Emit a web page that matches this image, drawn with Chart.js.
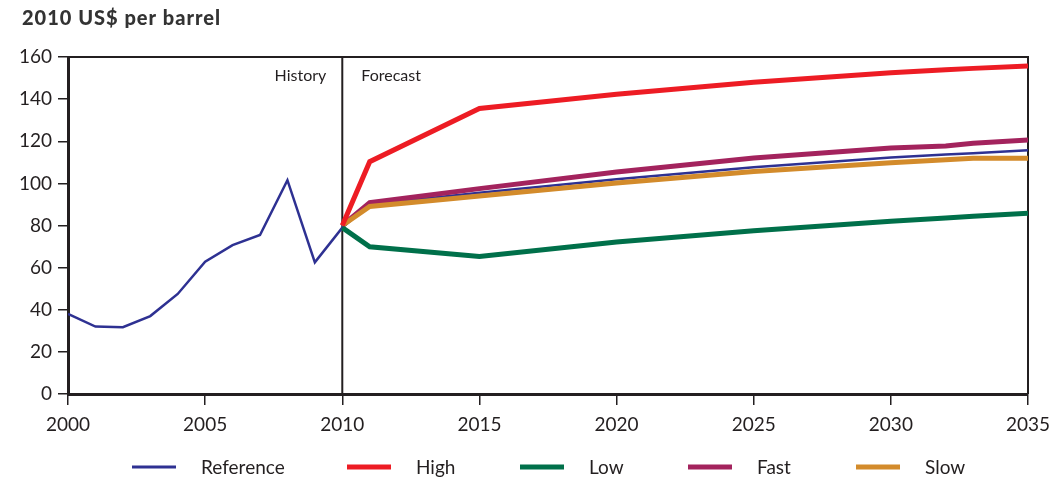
<!DOCTYPE html>
<html>
<head>
<meta charset="utf-8">
<script src="https://cdn.jsdelivr.net/npm/chart.js@4"></script>
<style>
  html, body { margin: 0; padding: 0; background: #fff; }
  #wrap { width: 1056px; height: 477px; position: relative; }
</style>
</head>
<body>
<div id="wrap"><canvas id="oilPrice"></canvas></div>
<script>
// series data (2010 US$ per barrel)
var refYears = [2000, 2001, 2002, 2003, 2004, 2005, 2006, 2007, 2008, 2009, 2010, 2011, 2015, 2020, 2025, 2030, 2032, 2033, 2035];
var refValues = [38, 32, 31.7, 37, 47.5, 62.8, 70.7, 75.5, 101.5, 62.5, 79, 90, 95.6, 102, 107.6, 112.3, 113.7, 114.3, 115.7];

var forecastYears = [2010, 2011, 2015, 2020, 2025, 2030, 2032, 2033, 2035];
var highValues = [80, 110.3, 135.6, 142.3, 148, 152.5, 153.9, 154.6, 155.7];
var lowValues = [79, 69.9, 65.3, 72.2, 77.5, 82, 83.6, 84.4, 85.8];
var fastValues = [80, 90.8, 97.5, 105.4, 112, 116.8, 117.8, 119, 120.6];
var slowValues = [80, 89, 94, 100.2, 105.6, 109.8, 111.2, 111.9, 111.9];

var seriesNames = ["Reference", "High", "Low", "Fast", "Slow"];
var seriesColors = ["#2e3192", "#ed1c24", "#00704a", "#a3235d", "#d38b2b"];

var xTickStart = 2000, xTickEnd = 2035, xTickStep = 5;
var yTickStart = 0, yTickEnd = 160, yTickStep = 20;

var chartTitle = "2010 US$ per barrel";
var historyLabel = "History";
var forecastLabel = "Forecast";
var splitYear = 2010;

function toPoints(xs, ys) {
  var pts = [];
  for (var i = 0; i < xs.length; i++) pts.push({ x: xs[i], y: ys[i] });
  return pts;
}

var FONT = "Lato, 'DejaVu Sans', sans-serif";
var TEXT = "#231f20";

// title, 2010 split line, frame, legend
var overlay = {
  id: "overlay",
  beforeDatasetsDraw: function (chart) {
    var ctx = chart.ctx, a = chart.chartArea;
    var xs = chart.scales.x.getPixelForValue(splitYear);
    ctx.save();
    ctx.strokeStyle = TEXT;
    ctx.lineWidth = 2;
    ctx.beginPath();
    ctx.moveTo(a.left, a.top);
    ctx.lineTo(a.right, a.top);
    ctx.lineTo(a.right, a.bottom);
    ctx.stroke();
    ctx.beginPath();
    ctx.moveTo(xs, a.top);
    ctx.lineTo(xs, a.bottom);
    ctx.stroke();
    ctx.fillStyle = TEXT;
    ctx.font = "16px " + FONT;
    ctx.textBaseline = "middle";
    ctx.textAlign = "right";
    ctx.fillText(historyLabel, xs - 16, a.top + 19);
    ctx.textAlign = "left";
    ctx.fillText(forecastLabel, xs + 19, a.top + 19);
    ctx.restore();
  },
  afterDraw: function (chart) {
    var ctx = chart.ctx;
    ctx.save();
    ctx.fillStyle = "#333";
    ctx.font = "900 20px " + FONT;
    ctx.letterSpacing = "1px";
    ctx.textBaseline = "middle";
    ctx.textAlign = "left";
    ctx.fillText(chartTitle, 22, 19);
    ctx.letterSpacing = "0px";

    var legendX = [132, 347, 520, 688, 856];
    var legendY = 467;
    ctx.font = "19px " + FONT;
    for (var i = 0; i < seriesNames.length; i++) {
      ctx.strokeStyle = seriesColors[i];
      ctx.lineWidth = i == 0 ? 3 : 5;
      ctx.beginPath();
      ctx.moveTo(legendX[i], legendY);
      ctx.lineTo(legendX[i] + 44, legendY);
      ctx.stroke();
      ctx.fillStyle = TEXT;
      ctx.fillText(seriesNames[i], legendX[i] + 69, legendY + 1);
    }
    ctx.restore();
  },
};

var ctxOil = document.getElementById("oilPrice").getContext("2d");
var oilChart = new Chart(ctxOil, {
  type: "line",
  data: {
    datasets: [
      { label: seriesNames[0], data: toPoints(refYears, refValues), borderColor: seriesColors[0], borderWidth: 2.5, order: 5 },
      { label: seriesNames[1], data: toPoints(forecastYears, highValues), borderColor: seriesColors[1], borderWidth: 5, order: 1 },
      { label: seriesNames[2], data: toPoints(forecastYears, lowValues), borderColor: seriesColors[2], borderWidth: 5, order: 2 },
      { label: seriesNames[3], data: toPoints(forecastYears, fastValues), borderColor: seriesColors[3], borderWidth: 5, order: 4 },
      { label: seriesNames[4], data: toPoints(forecastYears, slowValues), borderColor: seriesColors[4], borderWidth: 5, order: 3 },
    ],
  },
  options: {
    responsive: true,
    maintainAspectRatio: false,
    animation: false,
    elements: { point: { radius: 0 }, line: { tension: 0, fill: false } },
    layout: { padding: { top: 57, right: 28, left: 0, bottom: 0 } },
    plugins: { legend: { display: false }, title: { display: false }, tooltip: { enabled: false } },
    scales: {
      x: {
        type: "linear",
        min: xTickStart,
        max: xTickEnd,
        afterFit: function (s) {
          s.height = 83;
          s.paddingLeft = 0;
          s.paddingRight = 0;
        },
        ticks: {
          stepSize: xTickStep,
          color: TEXT,
          font: { family: FONT, size: 19 },
          padding: 8,
          maxRotation: 0,
          callback: function (v) { return String(v); },
        },
        grid: { display: true, drawOnChartArea: false, drawTicks: true, tickLength: 11, color: TEXT, lineWidth: 1.5 },
        border: { display: true, color: TEXT, width: 3 },
      },
      y: {
        min: yTickStart,
        max: yTickEnd,
        afterFit: function (s) {
          s.width = 68;
          s.paddingTop = 0;
          s.paddingBottom = 0;
        },
        ticks: {
          stepSize: yTickStep,
          color: TEXT,
          font: { family: FONT, size: 19 },
          padding: 6,
        },
        grid: { display: true, drawOnChartArea: false, drawTicks: true, tickLength: 10, color: TEXT, lineWidth: 1.5 },
        border: { display: true, color: TEXT, width: 3 },
      },
    },
  },
  plugins: [overlay],
});
</script>
</body>
</html>
